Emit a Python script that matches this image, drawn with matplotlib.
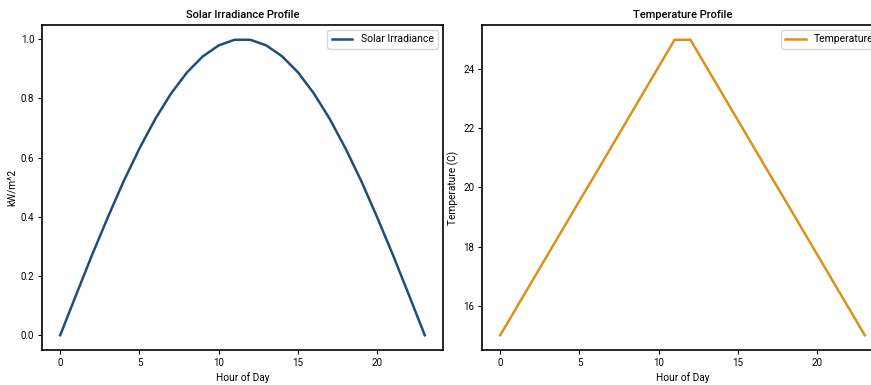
import matplotlib
matplotlib.use('Agg')
import matplotlib.pyplot as plt

# Datos
hours = list(range(24))
solar = [0.0, 0.136, 0.270, 0.398, 0.520, 0.631, 0.731, 0.817, 0.888, 0.942,
         0.979, 0.998, 0.998, 0.979, 0.942, 0.888, 0.817, 0.731, 0.631, 0.520,
         0.398, 0.270, 0.136, 0.0]
temperature = [15.0, 15.91, 16.82, 17.73, 18.64, 19.55, 20.45, 21.36, 22.27, 23.18,
               24.09, 25.0, 25.0, 24.09, 23.18, 22.27, 21.36, 20.45, 19.55, 18.64,
               17.73, 16.82, 15.91, 15.0]

plt.rcParams['font.family'] = ['Roboto', 'DejaVu Sans']
plt.rcParams['font.size'] = 7
plt.rcParams['xtick.major.size'] = 3
plt.rcParams['ytick.major.size'] = 3
plt.rcParams['xtick.major.pad'] = 2.5
plt.rcParams['ytick.major.pad'] = 2.5

W, H = 871, 385
fig = plt.figure(figsize=(W / 100, H / 100), dpi=100)

ax1 = fig.add_axes([42 / W, 1 - 350 / H, 401 / W, 325 / H])
ax1.plot(hours, solar, color='#1f4e79', linewidth=1.8, label='Solar Irradiance')
ax1.set_title('Solar Irradiance Profile', fontsize=8, pad=5, fontweight='medium')
ax1.set_xlabel('Hour of Day', fontsize=7.3, labelpad=3)
ax1.set_ylabel('kW/m^2', fontsize=7.3, labelpad=3)
ax1.set_xticks([0, 5, 10, 15, 20])
ax1.legend(loc='upper right', fontsize=7.5)

# el panel derecho sale cortado por el borde de la imagen
ax2 = fig.add_axes([482 / W, 1 - 350 / H, 401 / W, 325 / H])
ax2.plot(hours, temperature, color='#d9921a', linewidth=1.8, label='Temperature')
ax2.set_title('Temperature Profile', fontsize=8, pad=5, fontweight='medium')
ax2.set_xlabel('Hour of Day', fontsize=7.3, labelpad=3)
ax2.set_ylabel('Temperature (C)', fontsize=7.3, labelpad=3)
ax2.set_xticks([0, 5, 10, 15, 20])
ax2.legend(loc='upper right', fontsize=7.5)

for ax in (ax1, ax2):
    for s in ax.spines.values():
        s.set_linewidth(1.2)

fig.savefig('out.png', dpi=100)
